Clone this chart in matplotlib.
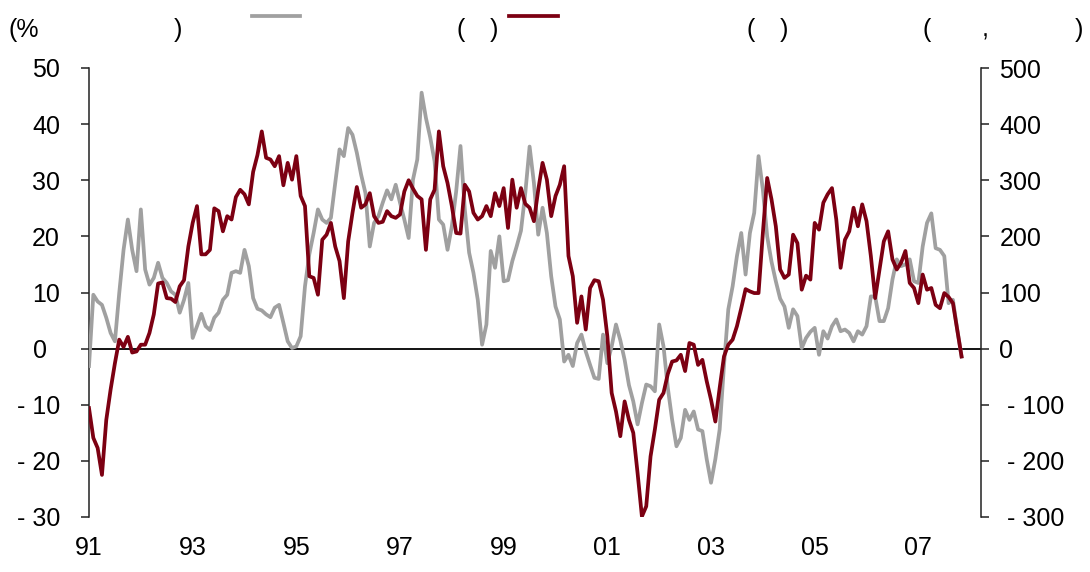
import matplotlib
matplotlib.use("Agg")
import matplotlib.pyplot as plt
from matplotlib.lines import Line2D
import numpy as np

plt.rcParams['font.family'] = ['Liberation Sans', 'DejaVu Sans']

# ---------------- data ----------------
year_labels = ['91', '93', '95', '97', '99', '01', '03', '05', '07']
months_per_label = 24

left_ticks = [-30, -20, -10, 0, 10, 20, 30, 40, 50]
right_ticks = [-300, -200, -100, 0, 100, 200, 300, 400, 500]

# grey series (left axis, %)
grey_values = [
    -3.1, 9.6, 8.4, 7.8, 5.5, 2.8, 1.3, 9.9, 17.6, 23.0,
    17.6, 13.8, 24.8, 14.1, 11.4, 12.6, 15.3, 12.6, 11.7, 10.2,
    9.6, 6.4, 8.7, 11.7, 1.9, 4.0, 6.2, 4.0, 3.3, 5.5,
    6.4, 8.7, 9.6, 13.5, 13.8, 13.5, 17.6, 14.7, 9.0, 7.1,
    6.8, 6.1, 5.6, 7.3, 7.8, 4.6, 1.3, 0.1, 0.4, 2.2,
    11.1, 16.8, 20.6, 24.8, 23.0, 22.4, 23.3, 29.5, 35.5, 34.3,
    39.3, 38.1, 34.9, 31.0, 27.7, 18.2, 22.4, 23.6, 26.0, 28.2,
    26.6, 29.2, 26.0, 23.0, 19.7, 30.1, 33.7, 45.6, 41.1, 37.6,
    33.4, 23.0, 22.1, 17.6, 21.8, 28.0, 36.1, 24.8, 17.1, 13.5,
    8.7, 0.7, 4.3, 17.4, 14.4, 20.0, 12.0, 12.2, 15.6, 18.2,
    21.0, 27.7, 36.0, 29.5, 20.3, 25.1, 20.6, 12.9, 7.5, 5.2,
    -2.3, -1.1, -3.1, 1.0, 2.5, -0.5, -2.9, -5.2, -5.4, 2.5,
    -2.6, 0.4, 4.3, 1.5, -2.0, -6.5, -9.4, -13.5, -9.7, -6.4,
    -6.7, -7.6, 4.3, 0.4, -7.0, -12.7, -17.4, -15.9, -10.9, -12.7,
    -11.2, -14.4, -14.7, -19.7, -23.9, -19.7, -14.4, -3.0, 7.0, 11.1,
    16.5, 20.6, 13.2, 20.6, 24.2, 34.3, 28.3, 20.0, 15.5, 12.0,
    8.9, 7.5, 3.7, 7.0, 5.8, 0.1, 1.9, 3.0, 3.7, -1.1,
    3.1, 1.8, 4.0, 5.2, 3.1, 3.4, 2.8, 1.3, 3.1, 2.5,
    4.0, 9.3, 9.3, 4.9, 4.9, 7.2, 12.3, 15.9, 14.7, 15.0,
    15.9, 12.0, 11.7, 18.2, 22.4, 24.1, 17.9, 17.6, 16.5, 8.1,
    8.7, 3.4, -1.4,
]

# dark red series (right axis, thousands)
red_values = [
    -106, -159, -177, -225, -127, -73, -26, 16, 3, 21,
    -7, -5, 7, 7, 28, 61, 116, 118, 90, 89,
    83, 111, 122, 182, 224, 254, 168, 168, 176, 250,
    245, 209, 236, 230, 270, 283, 275, 257, 315, 345,
    387, 340, 337, 325, 343, 291, 331, 301, 343, 272,
    254, 129, 126, 96, 194, 203, 224, 182, 156, 90,
    191, 242, 288, 251, 257, 277, 236, 224, 226, 245,
    236, 233, 239, 280, 300, 285, 272, 266, 176, 266,
    283, 387, 325, 295, 254, 206, 205, 292, 280, 242,
    230, 236, 254, 236, 277, 254, 286, 215, 301, 251,
    286, 258, 251, 227, 283, 331, 301, 236, 272, 292,
    325, 165, 129, 46, 93, 34, 108, 122, 120, 87,
    22, -79, -112, -156, -94, -127, -150, -222, -299, -281,
    -192, -144, -91, -79, -45, -23, -21, -11, -40, 10,
    7, -29, -20, -58, -91, -130, -70, -14, 7, 16,
    40, 72, 106, 102, 99, 99, 206, 304, 266, 218,
    141, 126, 132, 203, 188, 105, 130, 123, 224, 212,
    260, 275, 286, 230, 144, 194, 209, 251, 218, 257,
    227, 165, 90, 141, 191, 209, 159, 141, 153, 174,
    117, 108, 81, 132, 105, 108, 78, 72, 99, 92,
    81, 34, -14,
]

# ---------------- figure ----------------
W, H = 1090, 572
fig = plt.figure(figsize=(W / 100, H / 100), dpi=100)
fig.patch.set_facecolor('white')

def fx(px):
    return px / W

def fy(py):
    return 1 - py / H

ax = fig.add_axes([fx(89), fy(517), fx(981) - fx(89), fy(68) - fy(517)])
ax2 = ax.twinx()

GREY = '#A0A0A0'
RED = '#7C0012'
FS = 18
LW = 2.7

x = np.arange(len(grey_values))
ax.plot(x, grey_values, color=GREY, lw=LW, solid_joinstyle='round', zorder=3)
ax2.plot(np.arange(len(red_values)), red_values, color=RED, lw=LW,
         solid_joinstyle='round', zorder=3)

ax.axhline(0, color='black', lw=1.3, zorder=1)

ax.set_xlim(0, 206.5)
ax.set_ylim(left_ticks[0], left_ticks[-1])
ax2.set_ylim(right_ticks[0], right_ticks[-1])

for s in ['top', 'bottom', 'right']:
    ax.spines[s].set_visible(False)
for s in ['top', 'bottom', 'left']:
    ax2.spines[s].set_visible(False)
ax.spines['left'].set_color('#222222')
ax.spines['left'].set_linewidth(1.1)
ax2.spines['right'].set_color('#222222')
ax2.spines['right'].set_linewidth(1.1)

ax.set_yticks(left_ticks)
ax.set_yticklabels([])
ax.tick_params(axis='y', direction='out', length=6, width=1.1, color='#222222')
ax2.set_yticks(right_ticks)
ax2.set_yticklabels([])
ax2.tick_params(axis='y', direction='out', length=6, width=1.1, color='#222222')

xt = np.arange(len(year_labels)) * months_per_label
ax.set_xticks(xt)
ax.set_xticklabels(year_labels, fontsize=FS)
ax.tick_params(axis='x', length=0, pad=14)


def fmt(v):
    return f"- {abs(v)}" if v < 0 else f"{v}"


# left tick labels
for v in left_ticks:
    xpos = -0.0474 if v == 0 else -0.0325
    ax.text(xpos, v, fmt(v), transform=ax.get_yaxis_transform(),
            ha='right', va='center_baseline', fontsize=FS)

# right tick labels
for v in right_ticks:
    xpos = 1.0289 if v < 0 else 1.0207
    ax2.text(xpos, v, fmt(v), transform=ax2.get_yaxis_transform(),
             ha='left', va='center_baseline', fontsize=FS)

# top header / legend
base = fy(37)
fig.text(fx(9), base, '(%', fontsize=FS, ha='left', va='baseline')
fig.text(fx(174), base, ')', fontsize=FS, ha='left', va='baseline')
fig.add_artist(Line2D([fx(252), fx(300)], [fy(16), fy(16)], color=GREY, lw=LW,
                      transform=fig.transFigure))
fig.text(fx(456), base, '(', fontsize=FS, ha='left', va='baseline')
fig.text(fx(490), base, ')', fontsize=FS, ha='left', va='baseline')
fig.add_artist(Line2D([fx(509), fx(558)], [fy(16), fy(16)], color=RED, lw=LW,
                      transform=fig.transFigure))
fig.text(fx(746), base, '(', fontsize=FS, ha='left', va='baseline')
fig.text(fx(780), base, ')', fontsize=FS, ha='left', va='baseline')
fig.text(fx(922), base, '(', fontsize=FS, ha='left', va='baseline')
fig.text(fx(982), base, ',', fontsize=FS, ha='left', va='baseline')
fig.text(fx(1075), base, ')', fontsize=FS, ha='left', va='baseline')

fig.savefig('out.png', dpi=100, facecolor='white')
